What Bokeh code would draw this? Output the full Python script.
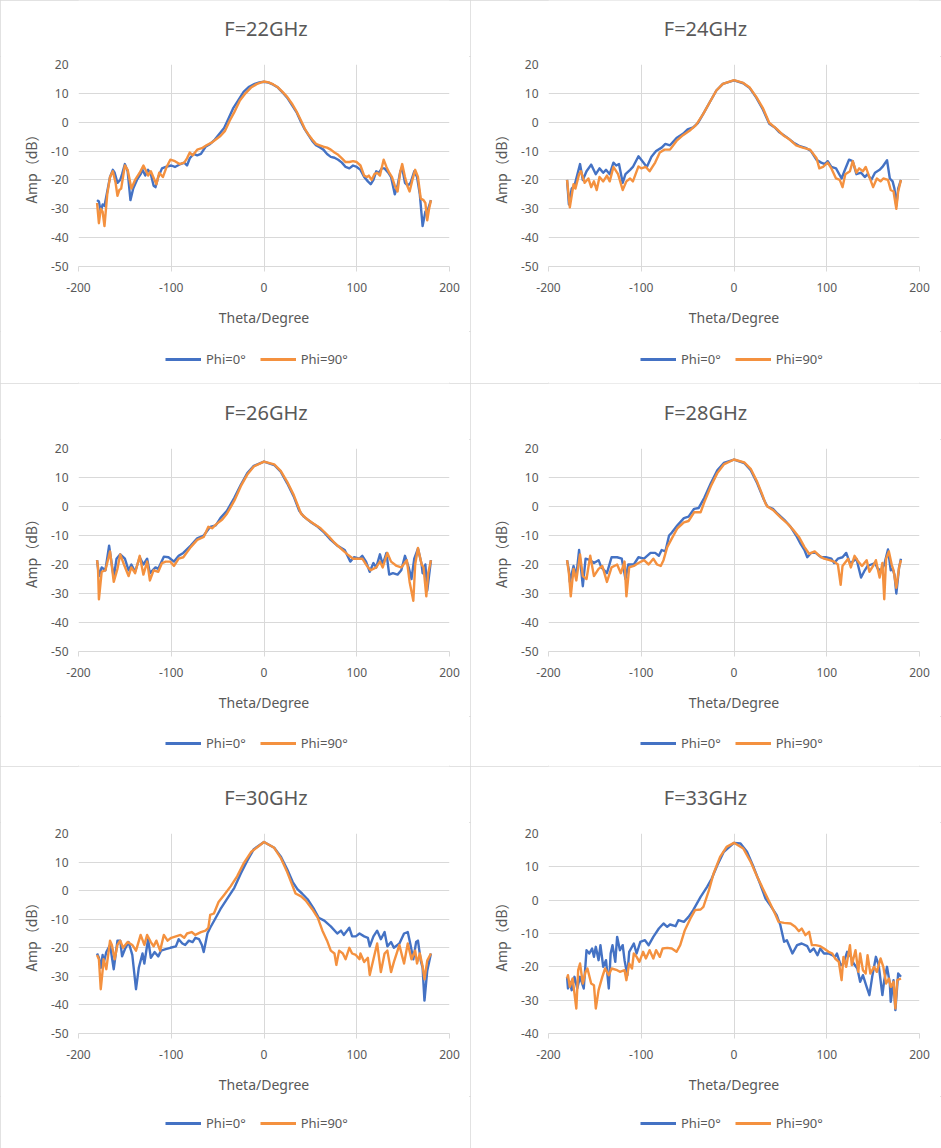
from bokeh.plotting import figure
from bokeh.layouts import column, row
from bokeh.models import Range1d, FixedTicker, Legend, LegendItem, Label
from bokeh.embed import file_html
from bokeh.resources import INLINE

# ---------------- data ----------------
TITLES = ["F=22GHz", "F=24GHz", "F=26GHz", "F=28GHz", "F=30GHz", "F=33GHz"]
SERIES_NAMES = ["Phi=0°", "Phi=90°"]
X_TICKS = [-200, -100, 0, 100, 200]
Y_TICKS_A = [-50, -40, -30, -20, -10, 0, 10, 20]
Y_TICKS_B = [-40, -30, -20, -10, 0, 10, 20]

T22_0 = [-180, -178, -176, -174, -172, -169, -166, -163, -161, -158, -155, -153, -150, -147, -144, -141, -137, -133, -131, -128, -125, -122, -119, -117, -114, -110, -106, -100, -96, -90, -86, -83, -80, -76, -72, -68, -63, -58, -53, -48, -43, -38, -33, -28, -22, -16, -10, -5, 0, 5, 10, 15, 20, 25, 30, 35, 40, 44, 48, 52, 56, 60, 64, 68, 72, 76, 80, 84, 88, 92, 96, 100, 104, 108, 112, 115, 118, 121, 124, 127, 130, 134, 137, 141, 144, 147, 149, 152, 155, 158, 162, 165, 168, 171, 174, 177, 180]
A22_0 = [-27, -27.5, -31, -28.5, -29, -24, -19, -16.5, -17.5, -21, -20, -18, -14.5, -17, -27, -23, -20, -18, -16.5, -18.5, -16.5, -18, -22, -22.5, -19, -16, -15.5, -15, -15.5, -14.5, -14, -15, -12.5, -11, -11.5, -11, -8.5, -7.5, -6, -4, -2, 1.5, 5, 7.5, 10.5, 12.3, 13.3, 13.8, 14, 13.7, 13, 12, 10.3, 8.5, 6, 3.5, 0, -2.5, -4.5, -6.5, -8, -8.7, -9.5, -11, -12, -12.3, -13, -14, -15.5, -16, -15, -15.5, -16.5, -19, -20.5, -21.5, -20, -17, -17.5, -16, -16, -17.5, -19, -25, -22, -17, -16, -21, -22, -21, -17, -19, -25, -36, -31, -30, -27]
T22_90 = [-180, -178, -176, -174, -172, -169, -166, -163, -160, -158, -156, -154, -150, -147, -143, -139, -134, -130, -127, -125, -122, -118, -116, -113, -109, -105, -101, -96, -91, -86, -83, -80, -77, -72, -67, -62, -56, -52, -47, -42, -37, -32, -26, -20, -14, -8, -3, 0, 5, 10, 15, 20, 25, 30, 35, 40, 44, 48, 52, 56, 60, 64, 68, 72, 76, 80, 84, 88, 92, 96, 100, 104, 108, 111, 113, 116, 119, 122, 125, 129, 132, 135, 138, 141, 144, 147, 149, 152, 155, 157, 160, 163, 166, 169, 172, 174, 176, 178, 180]
A22_90 = [-28, -35, -30, -31, -36, -25, -19, -17, -21, -25.5, -23.5, -23, -15, -16.5, -23, -20, -17.5, -15, -17, -18.5, -17, -20, -21.5, -17.5, -19, -15.5, -13, -13.5, -14.5, -14, -12.5, -10.5, -11.5, -9.5, -9, -8, -7, -6, -4.8, -3, 0.5, 3.5, 7.5, 10, 12, 13.2, 13.8, 14.1, 13.8, 13.1, 12.1, 10.5, 8.8, 6.5, 3.8, 0.5, -2.3, -4.3, -6, -7.5, -8, -8.5, -8.8, -9.5, -10.5, -11.3, -12.5, -13.8, -13.8, -13.5, -13.8, -15, -18.5, -19, -18.5, -20, -18, -17.5, -18.5, -13, -15.5, -17.5, -19, -22, -24, -17, -14.5, -19, -22.5, -24, -20, -16.5, -19, -26.5, -27, -28, -34, -30, -27]

T24_0 = [-180, -178, -175, -172, -166, -163, -159, -154, -149, -145, -141, -138, -134, -130, -127, -124, -120, -117, -112, -109, -103, -100, -94, -89, -84, -78, -74, -69, -62, -55, -50, -44, -39, -33, -26, -19, -12, 0, 10, 17, 24, 31, 38, 44, 49, 56, 64, 71, 78, 83, 89, 94, 98, 101, 105, 110, 116, 119, 124, 128, 132, 137, 141, 144, 148, 152, 157, 160, 165, 168, 171, 173, 175, 177, 180]
A24_0 = [-20, -28.5, -23, -22, -14.5, -20, -17, -14.7, -18, -16, -17.5, -16.5, -18, -14, -15, -14.5, -21, -18, -16.5, -15.5, -11.8, -13, -15.5, -12, -10, -8.8, -7.5, -8, -5.5, -4, -2.5, -1.8, -0.3, 3, 7, 11, 13.3, 14.5, 13.5, 11.8, 8.5, 4.5, -0.5, -1.8, -3.5, -5, -7, -8.3, -9, -10, -13, -14, -14.5, -13.5, -15.5, -16, -19.5, -17, -13, -13.5, -18, -17.5, -19, -18, -20, -17.5, -16.5, -15.5, -13.2, -19.5, -20.5, -23, -29, -23, -20]
T24_90 = [-180, -177, -173, -171, -167, -165, -161, -157, -154, -151, -148, -145, -141, -137, -134, -130, -125, -120, -116, -112, -109, -103, -100, -95, -91, -85, -80, -75, -69, -62, -55, -48, -41, -33, -26, -19, -12, 0, 10, 17, 24, 31, 38, 46, 53, 60, 67, 74, 82, 89, 92, 96, 101, 105, 110, 114, 117, 120, 125, 128, 132, 135, 139, 142, 146, 150, 154, 158, 161, 166, 169, 172, 175, 177, 180]
A24_90 = [-20, -29.5, -21.5, -23, -18, -17, -21, -19.5, -22.5, -20.5, -23.5, -19, -20.5, -18.5, -20.5, -15.5, -18, -23.5, -20.5, -19.5, -20.5, -15.3, -16, -15.5, -17, -14, -10.5, -9.5, -9.5, -6.5, -4.5, -3, -1, 3, 7, 11, 13.3, 14.6, 13.6, 12, 8.8, 5, -0.2, -2.3, -4.5, -6, -8, -8.8, -9.5, -12.5, -16, -15.5, -14, -16, -19.5, -20, -22.5, -18, -17, -13.5, -17.5, -16, -17, -15.5, -19, -22.5, -19.5, -20.5, -19.5, -20, -23.5, -24, -30, -24, -20]

T26_0 = [-180, -178, -175, -171, -167, -162, -159, -155, -150, -146, -143, -139, -134, -130, -126, -123, -117, -114, -108, -103, -97, -92, -87, -79, -72, -65, -58, -52, -47, -40, -32, -25, -18, -11, 0, 11, 18, 25, 32, 38, 43, 51, 58, 65, 72, 79, 87, 93, 97, 103, 106, 110, 114, 118, 121, 125, 128, 132, 135, 139, 144, 148, 152, 156, 159, 162, 166, 170, 171, 174, 176, 180]
A26_0 = [-18.5, -24, -21, -22, -13.5, -24.5, -18, -16.5, -18, -22, -20, -22.5, -17.5, -20, -18, -23, -21, -21.5, -17.3, -17.5, -19, -17, -16, -13.5, -11, -10, -7, -6.5, -4, -1.5, 3, 7.5, 11.5, 14, 15.5, 14.3, 12, 8, 3.5, -1.5, -3.5, -5.5, -7, -9, -11.5, -13.5, -15, -19, -17.5, -18, -17, -19, -22.5, -19.5, -21, -16.5, -20, -16, -23.5, -23, -23.5, -22, -17, -21, -25, -18, -14.5, -20, -23, -20, -29, -18.5]
T26_90 = [-180, -179, -178, -175, -171, -166, -162, -158, -155, -151, -146, -143, -139, -134, -130, -126, -123, -119, -114, -110, -106, -101, -97, -92, -87, -79, -72, -65, -60, -56, -51, -45, -40, -32, -25, -18, -11, 0, 11, 18, 25, 32, 40, 47, 54, 61, 69, 76, 83, 90, 96, 101, 106, 111, 115, 121, 125, 128, 133, 137, 143, 148, 154, 157, 161, 163, 166, 170, 172, 175, 177, 180]
A26_90 = [-18.5, -21, -32, -22.5, -22, -15.5, -26, -21.5, -16.5, -20, -24, -21, -23, -17, -23.5, -19, -25.5, -22, -22.5, -19.5, -19, -19, -20.5, -18, -17.5, -14, -11.5, -10.5, -7, -7.5, -6, -4.5, -2.5, 2, 7, 11, 13.8, 15.5, 14.5, 12.3, 8.5, 4, -2.5, -4.5, -6, -7.5, -10, -12.5, -14.5, -16.5, -18, -18, -18, -20.5, -22, -21, -19, -21, -16, -19, -20.5, -21, -18.5, -26, -32.5, -20, -14.3, -20, -21, -31, -23, -18.5]

T28_0 = [-180, -178, -177, -173, -170, -167, -163, -160, -155, -151, -146, -143, -137, -132, -126, -121, -117, -114, -108, -103, -97, -90, -85, -81, -78, -74, -70, -67, -61, -54, -49, -43, -38, -32, -25, -18, -11, 0, 11, 18, 25, 32, 36, 42, 47, 54, 61, 67, 72, 76, 79, 83, 88, 94, 99, 105, 108, 112, 117, 121, 125, 128, 132, 137, 141, 144, 148, 152, 155, 159, 162, 166, 169, 171, 173, 175, 178, 180]
A28_0 = [-18.5, -22, -26, -20.5, -24, -15, -27.5, -18, -18.5, -19.5, -18.5, -21, -23, -17.5, -17.5, -18, -25, -20, -20, -17.5, -18, -16, -16, -17, -15, -15.5, -10, -9, -6.5, -4, -3.5, -0.8, -0.5, 3, 8, 12.5, 15, 16.2, 15, 12.5, 8, 2.5, 0, -0.8, -2.5, -4.5, -7, -10, -13, -15, -17.5, -16, -16, -17.5, -17.5, -18, -19.5, -18, -17.5, -16, -19.5, -19, -18, -24.5, -22, -20.5, -20, -19.5, -21.5, -22, -20, -14.8, -22, -21.5, -23.5, -30, -21, -18]
T28_90 = [-180, -178, -176, -173, -170, -166, -163, -159, -155, -151, -146, -142, -137, -132, -126, -122, -118, -116, -113, -108, -103, -97, -92, -87, -83, -79, -76, -72, -67, -61, -54, -49, -43, -36, -32, -25, -18, -11, 0, 11, 18, 25, 30, 34, 36, 42, 51, 58, 65, 70, 76, 81, 87, 92, 97, 103, 108, 112, 115, 117, 123, 126, 130, 134, 138, 143, 146, 150, 153, 157, 160, 162, 164, 167, 170, 172, 175, 178, 180]
A28_90 = [-18.5, -23, -31, -21.5, -25.5, -16.5, -24, -25, -17, -24, -21.5, -20.5, -26, -21, -20, -23, -19, -31, -21, -20.5, -19.5, -18.5, -20, -18, -20, -20.5, -18.5, -14, -11, -7.5, -5.5, -5, -2, -2, 1.5, 7, 11.5, 14.5, 16.2, 15.2, 13, 8.5, 4.5, 1, 0, -1.2, -4, -6, -8.5, -10.5, -14, -16.3, -15.5, -17, -18, -18.5, -19, -20, -27, -20.5, -18, -21, -17, -19, -20.5, -18.5, -22.5, -20.5, -18.5, -24.5, -19.5, -32, -18, -15.5, -20, -22, -28, -21, -18.5]

T30_0 = [-180, -178, -176, -174, -173, -170, -166, -162, -158, -155, -153, -150, -146, -142, -138, -135, -131, -129, -125, -122, -118, -114, -111, -106, -101, -95, -92, -88, -85, -81, -77, -74, -70, -67, -65, -61, -58, -52, -47, -40, -32, -25, -18, -11, 0, 11, 18, 25, 31, 36, 41, 47, 54, 59, 65, 72, 79, 83, 86, 92, 95, 99, 103, 108, 112, 114, 118, 122, 126, 130, 133, 137, 140, 146, 151, 155, 158, 161, 164, 166, 169, 171, 173, 176, 180]
A30_0 = [-22, -23.5, -27, -22.5, -25.5, -21.5, -19, -27.5, -17.5, -17.5, -23, -20.5, -18, -22.5, -34.5, -27, -22, -25.5, -17, -23.5, -21.5, -23, -21, -20.5, -20, -19.5, -17, -18.5, -19, -17.5, -18, -16.5, -17, -19, -21.5, -15, -13, -9.5, -6.5, -3, 1, 6, 10.5, 14.5, 17, 15, 12, 7.5, 3, 0.5, -1, -3, -6.5, -9.5, -10.5, -12.5, -15, -14, -15.5, -13, -16, -16, -15, -16, -16.5, -19.5, -16, -14, -17, -14.5, -19.5, -18, -20, -18.5, -15, -14.5, -19, -24, -18, -17.5, -24.5, -27, -38.5, -28, -22]
T30_90 = [-180, -178, -176, -174, -173, -170, -166, -164, -161, -158, -155, -152, -147, -142, -138, -133, -129, -126, -122, -119, -116, -112, -108, -104, -100, -95, -90, -86, -83, -78, -74, -68, -63, -60, -58, -54, -49, -43, -36, -29, -22, -14, 0, 11, 18, 25, 31, 34, 40, 45, 52, 58, 63, 68, 72, 76, 78, 81, 85, 88, 92, 95, 99, 103, 104, 108, 112, 114, 118, 122, 126, 130, 133, 137, 140, 146, 149, 151, 155, 159, 163, 165, 168, 171, 173, 176, 180]
A30_90 = [-22.5, -24, -34.5, -28, -24, -27.5, -17.5, -19, -24, -19, -17.5, -20, -18, -19, -21, -15.5, -19, -15.5, -18, -19.5, -17.5, -21, -15.5, -17.5, -16.5, -16, -15.5, -16.5, -15, -14.5, -15.5, -14.5, -14, -13, -8.5, -8, -4, -1.5, 1.5, 5, 9.5, 13.5, 17, 15, 11.5, 6.5, 1.5, -1, -2, -3.5, -6.5, -9.5, -14, -17.5, -21, -22, -26, -21, -22, -24, -20, -22, -22.5, -24, -22, -25, -23.5, -29.5, -24, -18.5, -28.5, -22, -21, -28.5, -25, -19, -23, -25.5, -18.5, -24, -21, -25.5, -22, -26.5, -31, -24.5, -22]

T33_0 = [-180, -179, -177, -175, -172, -169, -166, -162, -159, -156, -153, -151, -149, -146, -144, -141, -138, -135, -133, -131, -128, -126, -123, -120, -118, -115, -113, -108, -105, -101, -96, -92, -87, -81, -76, -72, -69, -63, -60, -54, -49, -44, -36, -29, -24, -18, -11, 0, 7, 14, 21, 28, 34, 39, 46, 50, 54, 57, 63, 68, 73, 79, 82, 86, 90, 93, 97, 102, 106, 109, 111, 115, 118, 122, 126, 129, 133, 136, 139, 143, 146, 149, 153, 156, 160, 162, 165, 168, 169, 172, 174, 177, 180]
A33_0 = [-23, -26.5, -24.5, -27, -23, -26.5, -23, -26.5, -15, -16, -14.5, -17, -14, -18, -13.5, -20, -18, -26.5, -16, -13.5, -18.5, -11, -15, -13.5, -18, -22.5, -15.5, -13, -16, -12.5, -12, -13.5, -11, -8.5, -7, -8, -7.3, -7.8, -6, -6.5, -5, -3, 1, 4, 6.5, 10.5, 14.5, 17.2, 17, 14.5, 10, 5, 0.5, -1.5, -4.5, -7.5, -12.5, -12, -16, -13.5, -13, -13.8, -15.5, -14.5, -16.5, -14.5, -16, -16, -16.5, -17, -16, -19.5, -19, -15.5, -17, -19, -20.5, -24.5, -22.5, -26, -28.5, -23, -17, -19.5, -28.5, -24, -20, -25, -30.5, -24, -33, -22, -23]
T33_90 = [-180, -179, -177, -174, -170, -168, -166, -163, -160, -158, -154, -151, -149, -146, -142, -139, -135, -132, -126, -123, -118, -116, -113, -110, -108, -105, -102, -98, -95, -91, -87, -84, -80, -77, -72, -67, -62, -58, -53, -47, -42, -36, -33, -27, -22, -15, -8, 0, 10, 18, 25, 32, 39, 45, 48, 54, 61, 66, 70, 73, 77, 81, 84, 88, 93, 97, 102, 106, 109, 113, 116, 118, 121, 125, 127, 131, 134, 136, 139, 142, 144, 147, 151, 154, 158, 161, 164, 167, 169, 172, 174, 176, 180]
A33_90 = [-23.5, -22.5, -26, -23.5, -32.5, -21, -19, -25, -21.5, -20.5, -25, -25.5, -32.5, -27, -23, -20.5, -22.5, -20.5, -21, -21.5, -21, -24, -19, -20.5, -16, -17, -18.5, -15.5, -17.5, -15, -17.5, -15, -17, -14.5, -14.3, -14.5, -15.5, -13.5, -9, -5.5, -3, -2.8, -2, 3, 8, 13, 16, 17.2, 15.5, 11.5, 7, 3, -1, -4.5, -6.5, -6.8, -7, -8, -9.3, -8.5, -10.5, -9.5, -13.5, -13.5, -13.8, -14.5, -15.5, -16, -17.5, -18.5, -24, -17, -20, -13.5, -19.5, -15, -21.5, -16, -21, -22, -16.5, -22, -20, -21.5, -17.5, -20, -25, -23.5, -26, -24.5, -32.5, -24, -23.5]

PANELS = [
    (T22_0, A22_0, T22_90, A22_90),
    (T24_0, A24_0, T24_90, A24_90),
    (T26_0, A26_0, T26_90, A26_90),
    (T28_0, A28_0, T28_90, A28_90),
    (T30_0, A30_0, T30_90, A30_90),
    (T33_0, A33_0, T33_90, A33_90),
]
Y_LIMITS = [(-50, 20), (-50, 20), (-50, 20), (-50, 20), (-50, 20), (-40, 20)]

# ---------------- styling / layout ----------------
BLUE = "#4472C4"
ORANGE = "#F4913F"
GRID = "#d9d9d9"
TXT = "#595959"
FONT = "Noto Sans"
CJK = "Noto Sans CJK SC"

COL_W = [470, 471]
FRAME_LEFT = 78
FRAME_W = 371
TITLE_H = 56
TITLE_CX = [265.5, 235]          # title centre, px from panel left
TITLE_CY = [28, 28.5, 30.5]      # title centre, px from panel top
PLOT_TOP = [8, 9, 11]            # frame top inside the plot figure
PLOT_FRAME = [202, 203, 201]
PLOT_H = [275, 277, 274]
LEG_H = [52, 50, 52]
LEG_PAD_BOTTOM = [0, 0, 2]
LEG_Y = [15, 14, 14]             # legend box bottom above strip frame bottom
LEG_X = [87, 92]                 # legend box left, px right of frame left


def strip(w, h, xr, yr, bottom=0):
    f = figure(width=w, height=h, output_backend="svg", toolbar_location=None,
               x_range=xr, y_range=yr, x_axis_location=None, y_axis_location=None,
               min_border_left=FRAME_LEFT, min_border_right=w - FRAME_LEFT - FRAME_W,
               min_border_top=0, min_border_bottom=bottom,
               background_fill_color="white", border_fill_color="white")
    f.grid.visible = False
    f.outline_line_color = None
    return f


def make_panel(i):
    r, c = divmod(i, 2)
    t0, a0, t90, a90 = PANELS[i]
    ylo, yhi = Y_LIMITS[i]
    yt = Y_TICKS_A if ylo == -50 else Y_TICKS_B
    w = COL_W[c]

    # ---- title strip (x in px from the panel's left edge) ----
    tf = strip(w, TITLE_H, Range1d(FRAME_LEFT, FRAME_LEFT + FRAME_W), Range1d(0, TITLE_H))
    tf.add_layout(Label(x=TITLE_CX[c], y=TITLE_H - TITLE_CY[r], text=TITLES[i],
                        text_align="center", text_baseline="middle",
                        text_font=FONT, text_font_size="20px", text_color=TXT))

    # ---- chart ----
    h = PLOT_H[r]
    top = PLOT_TOP[r]
    bottom = h - top - PLOT_FRAME[r]
    p = figure(width=w, height=h, output_backend="svg", toolbar_location=None,
               x_range=Range1d(-200, 200), y_range=Range1d(ylo, yhi),
               min_border_left=FRAME_LEFT, min_border_right=w - FRAME_LEFT - FRAME_W,
               min_border_top=top, min_border_bottom=bottom,
               background_fill_color="white", border_fill_color="white")
    p.outline_line_color = None

    p.xaxis.ticker = FixedTicker(ticks=X_TICKS)
    p.yaxis.ticker = FixedTicker(ticks=yt)
    p.xgrid.ticker = FixedTicker(ticks=X_TICKS)
    p.ygrid.ticker = FixedTicker(ticks=yt)
    p.grid.grid_line_color = GRID
    p.grid.grid_line_width = 1
    p.xaxis.major_label_overrides = {v: str(v) for v in X_TICKS}
    p.yaxis.major_label_overrides = {v: str(v) for v in yt}

    for ax in (p.xaxis[0], p.yaxis[0]):
        ax.major_label_text_font = FONT
        ax.major_label_text_font_size = "12px"
        ax.major_label_text_color = TXT
        ax.axis_label_text_color = TXT
        ax.axis_label_text_font_style = "normal"
        ax.axis_label_text_font_size = "14px"
        ax.minor_tick_line_color = None

    xa = p.xaxis[0]
    xa.axis_label = "Theta/Degree"
    xa.axis_label_text_font = FONT
    xa.axis_line_color = GRID
    xa.major_tick_line_color = GRID
    xa.major_tick_out = 5
    xa.major_tick_in = 0
    xa.major_label_standoff = 11
    xa.axis_label_standoff = 13

    ya = p.yaxis[0]
    ya.axis_label = "Amp（dB）"
    ya.axis_label_text_font = CJK
    ya.axis_line_color = None
    ya.major_tick_line_color = None
    ya.major_tick_out = 0
    ya.major_tick_in = 0
    ya.major_label_standoff = 10
    ya.axis_label_standoff = 7

    p.line(t0, a0, line_color=BLUE, line_width=2.4, line_join="round")
    p.line(t90, a90, line_color=ORANGE, line_width=2.4, line_join="round")

    # ---- legend strip ----
    lf = strip(w, LEG_H[r], Range1d(0, 1), Range1d(0, 1), bottom=LEG_PAD_BOTTOM[r])
    g0 = lf.line(x=[-3, -2], y=[-3, -2], line_color=BLUE, line_width=3)
    g90 = lf.line(x=[-3, -2], y=[-3, -2], line_color=ORANGE, line_width=3)
    leg = Legend(items=[LegendItem(label=SERIES_NAMES[0], renderers=[g0]),
                        LegendItem(label=SERIES_NAMES[1], renderers=[g90])],
                 orientation="horizontal", location=(LEG_X[c], LEG_Y[r]),
                 glyph_width=36, glyph_height=14, label_height=14,
                 label_standoff=5, spacing=14, padding=4, margin=0,
                 label_text_font=FONT, label_text_font_size="13px",
                 label_text_color=TXT, border_line_color=None,
                 background_fill_alpha=0)
    lf.add_layout(leg, "center")

    return column(tf, p, lf, styles={"outline": "1px solid #d9d9d9", "outline-offset": "-1px"})


panels = [make_panel(i) for i in range(6)]
layout = column(row(panels[0], panels[1]), row(panels[2], panels[3]), row(panels[4], panels[5]))

open("out.html", "w").write(file_html(layout, INLINE))
